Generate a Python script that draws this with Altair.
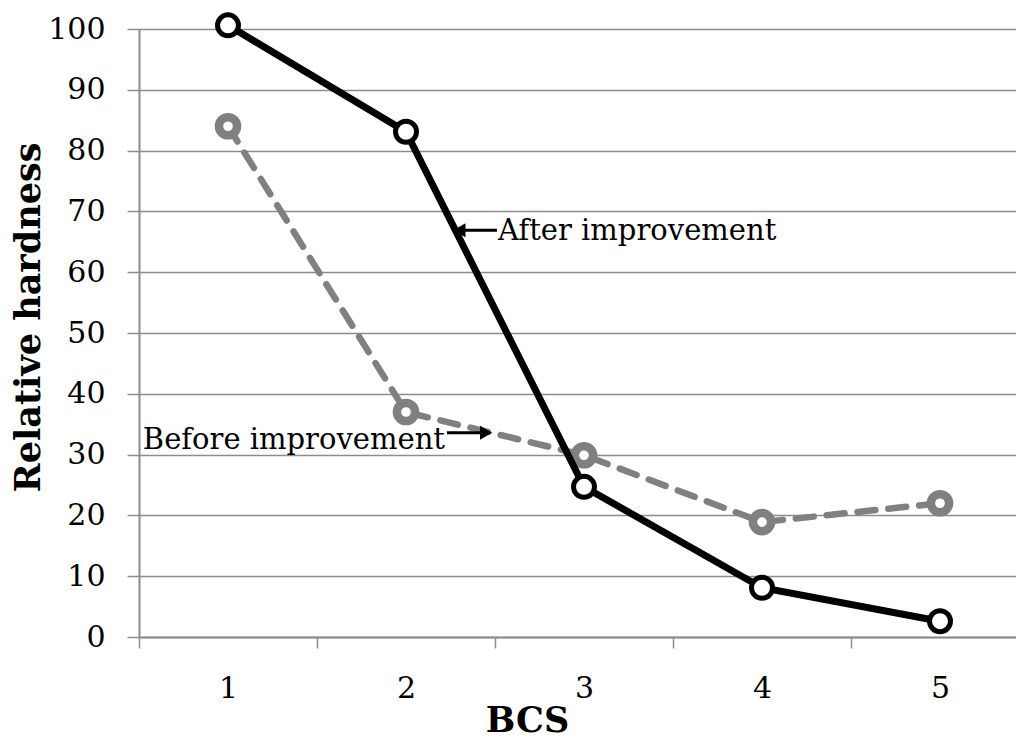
import altair as alt
import pandas as pd

bcs = [1, 2, 3, 4, 5]
after_vals = [100.6, 83.1, 24.7, 8.1, 2.6]
before_vals = [84.0, 37.0, 29.9, 18.9, 22.0]

# annotation labels and their anchor positions (data units)
ann_text = ["After improvement", "Before improvement"]
ann_x = [2.517, 2.219]
ann_y = [66.8, 32.4]
ann_align = ["left", "right"]
# arrows: tail x, head x, y, head shape
arr_x = [2.511, 2.230]
arr_x2 = [2.30, 2.45]
arr_y = [66.9, 33.6]
arr_shape = ["triangle-left", "triangle-right"]

FONT = "DejaVu Serif"
GRID = "#8c8c8c"

df = pd.DataFrame({"BCS": bcs, "after": after_vals, "before": before_vals})
ann = pd.DataFrame({"t": ann_text, "x": ann_x, "y": ann_y, "a": ann_align})
arr = pd.DataFrame({"x": arr_x, "x2": arr_x2, "y": arr_y, "s": arr_shape})

xscale = alt.Scale(domain=[0.5, 5.427], nice=False, zero=False)
yscale = alt.Scale(domain=[0, 100], nice=False)

xaxis = alt.Axis(
    values=[0.5, 1, 1.5, 2, 2.5, 3, 3.5, 4, 4.5, 5],
    labelExpr="datum.value % 1 === 0 ? format(datum.value, 'd') : ''",
    tickOpacity={"condition": {"test": "datum.value % 1 !== 0", "value": 1}, "value": 0},
    tickSize=11, tickColor=GRID, tickWidth=1.5,
    grid=False, domainColor=GRID, domainWidth=2,
    labelFont=FONT, labelFontSize=30, labelColor="black", labelPadding=25,
    labelBaseline="top", labelAngle=0,
    title="BCS", titleFont=FONT, titleFontSize=35, titleFontWeight="bold",
    titleColor="black", titleX=388, titleY=94, titleBaseline="alphabetic",
    titleAlign="center",
)
yaxis = alt.Axis(
    values=list(range(0, 101, 10)),
    tickSize=12, tickColor=GRID, tickWidth=1.5,
    grid=True, gridColor=GRID, gridWidth=1.5,
    domainColor=GRID, domainWidth=2,
    labelFont=FONT, labelFontSize=30, labelColor="black", labelPadding=22,
    title="Relative hardness", titleFont=FONT, titleFontSize=35,
    titleFontWeight="bold", titleColor="black", titleX=-111, titleY=288,
    titleAngle=-90, titleBaseline="middle", titleAlign="center",
)

base = alt.Chart(df)

before_line = base.mark_line(
    color="#808080", strokeWidth=6.5, strokeDash=[18, 13], strokeCap="round"
).encode(x=alt.X("BCS:Q", scale=xscale, axis=xaxis), y=alt.Y("before:Q", scale=yscale, axis=yaxis))

before_pts = base.mark_point(
    shape="circle", filled=False, fill="white", fillOpacity=1,
    stroke="#808080", strokeWidth=8.5, size=330, opacity=1
).encode(x=alt.X("BCS:Q", scale=xscale), y=alt.Y("before:Q", scale=yscale))

after_line = base.mark_line(color="black", strokeWidth=7).encode(
    x=alt.X("BCS:Q", scale=xscale), y=alt.Y("after:Q", scale=yscale)
)
after_pts = base.mark_point(
    shape="circle", filled=False, fill="white", fillOpacity=1,
    stroke="black", strokeWidth=5, size=440, opacity=1
).encode(x=alt.X("BCS:Q", scale=xscale), y=alt.Y("after:Q", scale=yscale))

text_layers = []
for al in ["left", "right"]:
    text_layers.append(
        alt.Chart(ann).transform_filter(alt.datum.a == al).mark_text(
            font=FONT, fontSize=29, color="black", baseline="middle", align=al
        ).encode(x=alt.X("x:Q", scale=xscale), y=alt.Y("y:Q", scale=yscale), text="t:N")
    )

arrow_lines = alt.Chart(arr).mark_rule(color="black", strokeWidth=3).encode(
    x=alt.X("x:Q", scale=xscale), x2="x2:Q", y=alt.Y("y:Q", scale=yscale)
)
arrow_heads = alt.Chart(arr).mark_point(
    filled=True, color="black", size=200, opacity=1
).encode(
    x=alt.X("x2:Q", scale=xscale), y=alt.Y("y:Q", scale=yscale),
    shape=alt.Shape("s:N", scale=None, legend=None),
)

chart = alt.layer(
    before_line, before_pts, after_line, after_pts, arrow_lines, arrow_heads, *text_layers
).properties(
    width=877, height=608,
    autosize=alt.AutoSizeParams(type="none"),
    padding={"left": 139, "top": 29, "right": 0, "bottom": 103},
).configure_view(stroke=None).configure(background="white")

chart.save("out.html", embed_options={"renderer": "svg", "actions": False})
